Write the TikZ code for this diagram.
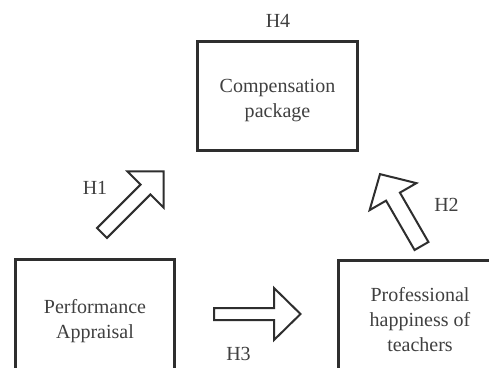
\documentclass[tikz,border=0pt]{standalone}
\usepackage{fontspec}
\setmainfont{Liberation Serif}
\definecolor{lineC}{HTML}{2E2E2E}
\definecolor{textC}{HTML}{404040}
\tikzset{
  box/.style={draw=lineC, line width=3pt, fill=white, inner sep=0pt},
  txt/.style={text=textC, align=center, font=\fontsize{20}{25}\selectfont, inner sep=0pt},
  hlab/.style={text=textC, font=\fontsize{20}{25}\selectfont, inner sep=0pt},
  arrowline/.style={draw=lineC, line width=2pt, fill=white, line join=miter},
  pics/blockarrow/.style n args={4}{code={
    \draw[arrowline] (0,-#2/2) -- (#1-#4,-#2/2) -- (#1-#4,-#3/2) -- (#1,0)
      -- (#1-#4,#3/2) -- (#1-#4,#2/2) -- (0,#2/2) -- cycle;
  }}
}
\begin{document}
\begin{tikzpicture}[x=1pt,y=-1pt]
\clip (0,0) rectangle (489,367);
\fill[white] (0,0) rectangle (489,367);
% boxes
\node[box, minimum width=160pt, minimum height=109pt] (comp) at (277.5,96) {};
\node[box, minimum width=159pt, minimum height=122pt] (perf) at (95,320.5) {};
\node[box, minimum width=163pt, minimum height=122pt] (prof) at (420,321.5) {};
% texts
\node[txt] (comptext) at (277.5,101) {Compensation\\package};
\node[txt] (perftext) at (95,321) {Performance\\Appraisal};
\node[txt] (proftext) at (420,319.8) {Professional\\happiness of\\teachers};
% block arrows
\coordinate (h1tail) at (102,233);
\coordinate (h2tail) at (421.5,246);
\coordinate (h3tail) at (214,314);
\pic[rotate=45] at (h1tail) {blockarrow={87}{14}{51}{25.5}};
\pic[rotate=120] at (h2tail) {blockarrow={83}{16}{54}{26}};
\pic at (h3tail) {blockarrow={86.5}{12}{52}{26.5}};
% labels
\node[hlab] (h4) at (278,21) {H4};
\node[hlab] (h1) at (95,188) {H1};
\node[hlab] (h2) at (446.5,204.5) {H2};
\node[hlab] (h3) at (238.5,354) {H3};
\end{tikzpicture}
\end{document}
